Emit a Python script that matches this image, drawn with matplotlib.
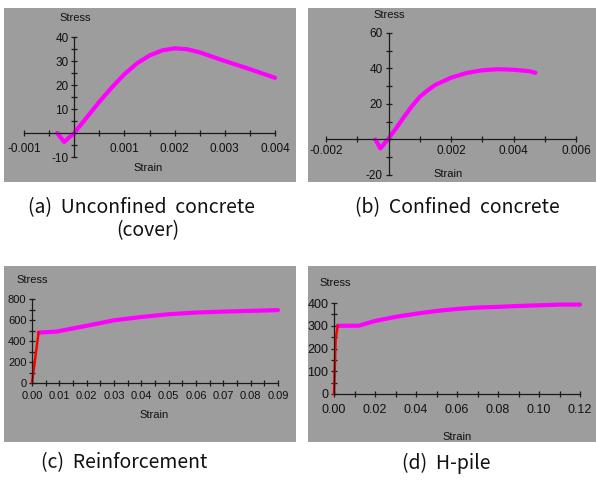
import matplotlib
matplotlib.use("Agg")
import matplotlib.pyplot as plt
from matplotlib.patches import Rectangle
from matplotlib.ticker import MultipleLocator

# (a) unconfined concrete (cover)
a_strain = [-0.00034, -0.0002, 0.0, 0.00025, 0.0005, 0.00075, 0.001, 0.00125, 0.0015,
            0.00175, 0.002, 0.00225, 0.0025, 0.003, 0.0035, 0.004]
a_stress = [0.0, -3.7, 0.0, 6.5, 13.0, 19.0, 24.5, 29.0, 32.3, 34.4, 35.3, 34.9, 33.6,
            30.0, 26.6, 23.0]

# (b) confined concrete
b_strain = [-0.00042, -0.00026, 0.0, 0.00025, 0.0005, 0.00075, 0.001, 0.00125, 0.0015,
            0.002, 0.0025, 0.003, 0.0035, 0.004, 0.0045, 0.0047]
b_stress = [0.0, -5.0, 0.5, 6.5, 12.8, 18.8, 24.0, 27.7, 30.8, 34.8, 37.5, 39.0, 39.6,
            39.3, 38.5, 37.6]

# (c) reinforcement
c_el_strain = [0.0, 0.0024]
c_el_stress = [0.0, 480]
c_strain = [0.0024, 0.009, 0.02, 0.03, 0.04, 0.05, 0.06, 0.07, 0.08, 0.09]
c_stress = [480, 490, 545, 597, 629, 655, 671, 680, 687, 694]

# (d) H-pile
d_el_strain = [0.0, 0.0008, 0.0018]
d_el_stress = [0.0, 240, 300]
d_strain = [0.0018, 0.012, 0.02, 0.03, 0.04, 0.05, 0.06, 0.07, 0.08, 0.09, 0.10, 0.11, 0.12]
d_stress = [300, 300, 321, 339, 353, 365, 374, 380, 383, 387, 390, 393, 393]

captions = ["(a)  Unconfined  concrete", "(b)  Confined  concrete",
            "(c)  Reinforcement", "(d)  H-pile"]

W, H = 596, 480
GRAY = "#9d9d9d"
MAG = "#ff00ff"
tick_font = ["Liberation Sans", "DejaVu Sans"]

fig = plt.figure(figsize=(W / 100, H / 100), dpi=100)


def box(x0, y0, x1, y1):
    return [x0 / W, 1 - y1 / H, (x1 - x0) / W, (y1 - y0) / H]


def panel(bg, plot_box, xlim, ylim, xticks, xlabels, yticks, ylabels, xminor, yminor,
          fs, xpad):
    fig.add_artist(Rectangle((bg[0] / W, 1 - bg[3] / H), (bg[2] - bg[0]) / W,
                             (bg[3] - bg[1]) / H, transform=fig.transFigure,
                             facecolor=GRAY, edgecolor="none", zorder=0))
    ax = fig.add_axes(box(*plot_box))
    ax.set_facecolor("none")
    ax.set_xlim(*xlim)
    ax.set_ylim(*ylim)
    for s in ["top", "right"]:
        ax.spines[s].set_visible(False)
    for s in ["left", "bottom"]:
        ax.spines[s].set_position(("data", 0))
        ax.spines[s].set_color("#1a1a1a")
        ax.spines[s].set_linewidth(0.9)
    ax.set_xticks(xticks)
    ax.set_xticklabels(xlabels)
    ax.set_yticks(yticks)
    ax.set_yticklabels(ylabels)
    ax.xaxis.set_minor_locator(MultipleLocator(xminor))
    ax.yaxis.set_minor_locator(MultipleLocator(yminor))
    ax.tick_params(which="major", direction="inout", length=5, width=0.9,
                   color="#1a1a1a", labelsize=fs, pad=1.5, labelcolor="#111111")
    ax.tick_params(axis="x", which="major", pad=xpad)
    ax.tick_params(which="minor", direction="inout", length=4, width=0.9, color="#1a1a1a")
    for lab in ax.get_xticklabels() + ax.get_yticklabels():
        lab.set_family(tick_font)
    return ax


def label(x, y, s, fs=8):
    fig.text(x / W, 1 - y / H, s, ha="center", va="center", fontsize=fs,
             family=tick_font, color="#111111")


# (a)
ax = panel((4, 8, 296, 182), (24, 37, 275, 157), (-0.001, 0.004), (-10, 40),
           [-0.001, 0.001, 0.002, 0.003, 0.004],
           ["-0.001", "0.001", "0.002", "0.003", "0.004"],
           [-10, 10, 20, 30, 40], ["-10", "10", "20", "30", "40"], 0.0005, 5, 8.5, 4.5)
ax.plot(a_strain, a_stress, color=MAG, lw=3, solid_capstyle="round", clip_on=False)
label(75, 18, "Stress")
label(148, 168, "Strain")

# (b)
ax = panel((308, 8, 596, 182), (326, 33, 576, 175), (-0.002, 0.006), (-20, 60),
           [-0.002, 0.002, 0.004, 0.006], ["-0.002", "0.002", "0.004", "0.006"],
           [-20, 20, 40, 60], ["-20", "20", "40", "60"], 0.001, 10, 8.5, 1.5)
ax.plot(b_strain, b_stress, color=MAG, lw=3, solid_capstyle="round", clip_on=False)
label(389, 15, "Stress")
label(448, 174, "Strain")

# (c)
ax = panel((4, 266, 296, 442), (32, 299, 278, 383), (0, 0.09), (0, 800),
           [0.01 * i for i in range(10)], ["%.2f" % (0.01 * i) for i in range(10)],
           [0, 200, 400, 600, 800], ["0", "200", "400", "600", "800"], 0.005, 100, 8, 3.5)
ax.plot(c_strain, c_stress, color=MAG, lw=3, solid_capstyle="round", clip_on=False)
ax.plot(c_el_strain, c_el_stress, color="#ff0000", lw=1.8, clip_on=False)
label(32, 280, "Stress")
label(154, 415, "Strain")

# (d)
ax = panel((308, 266, 596, 442), (334, 303, 580, 394), (0, 0.12), (0, 400),
           [0.02 * i for i in range(7)], ["%.2f" % (0.02 * i) for i in range(7)],
           [0, 100, 200, 300, 400], ["0", "100", "200", "300", "400"], 0.01, 50, 9, 5)
ax.plot(d_strain, d_stress, color=MAG, lw=3, solid_capstyle="round", clip_on=False)
ax.plot(d_el_strain, d_el_stress, color="#ff0000", lw=1.8, clip_on=False)
label(335, 283, "Stress")
label(457, 437, "Strain")

# captions
cap_font = ["Noto Sans CJK KR", "DejaVu Sans"]
for x, y, s in [(142, 208, captions[0]), (148, 231, "(cover)"), (457, 208, captions[1]),
                (124, 463, captions[2]), (446, 463, captions[3])]:
    fig.text(x / W, 1 - y / H, s, ha="center", va="center", fontsize=14,
             family=cap_font, color="#111111")

fig.savefig("out.png", dpi=100)
